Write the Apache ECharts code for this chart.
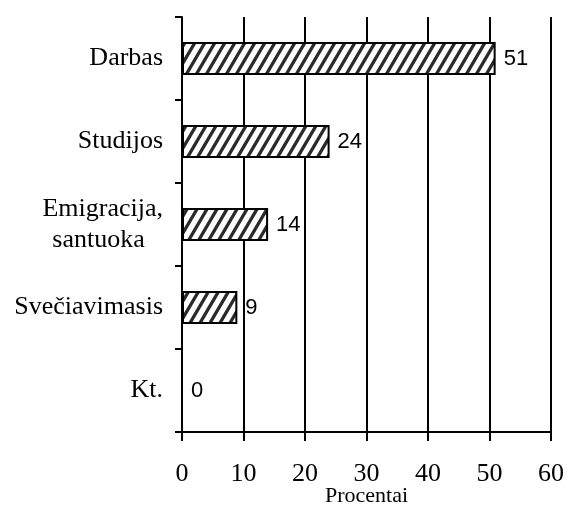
<!DOCTYPE html>
<html><head><meta charset="utf-8">
<script src="https://cdn.jsdelivr.net/npm/echarts@6/dist/echarts.min.js"></script>
<style>html,body{margin:0;padding:0;background:#fff}#c{width:568px;height:506px}</style>
</head><body><div id="c"></div>
<script>
const categories = ['Darbas', 'Studijos', 'Emigracija,\nsantuoka\u00a0\u00a0\u2009', 'Svečiavimasis', 'Kt.'];
const values = [51, 24, 14, 9, 0];
const xTicks = [0, 10, 20, 30, 40, 50, 60];

function hatch() {
  const w = 10, h = 17;
  const cv = document.createElement('canvas');
  cv.width = w; cv.height = h;
  const g = cv.getContext('2d');
  g.fillStyle = '#fff'; g.fillRect(0, 0, w, h);
  g.strokeStyle = '#2a2a2a'; g.lineWidth = 3.3;
  g.beginPath();
  for (let k = -1; k <= 1; k++) {
    g.moveTo(k * w - w, 2 * h); g.lineTo(k * w + 2 * w, -h);
  }
  g.stroke();
  return cv;
}

const chart = echarts.init(document.getElementById('c'), null, {renderer: 'canvas'});
chart.setOption({
  animation: false,
  grid: {left: 182, right: 17, top: 17, bottom: 74, containLabel: false, outerBoundsMode: 'none'},
  xAxis: {
    type: 'value', min: xTicks[0], max: xTicks[xTicks.length - 1], interval: 10,
    name: 'Procentai', nameLocation: 'middle', nameGap: 53, nameMoveOverlap: false,
    nameTextStyle: {fontFamily: 'Liberation Serif', fontSize: 22, color: '#000'},
    axisLine: {show: true, lineStyle: {color: '#000', width: 2}},
    axisTick: {show: true, length: 9, lineStyle: {color: '#000', width: 2}},
    axisLabel: {fontFamily: 'Liberation Serif', fontSize: 26, color: '#000', margin: 29},
    splitLine: {show: true, lineStyle: {color: '#000', width: 2}}
  },
  yAxis: {
    type: 'category', data: categories, inverse: true,
    axisLine: {show: true, lineStyle: {color: '#000', width: 2}},
    axisTick: {show: true, length: 7, lineStyle: {color: '#000', width: 2}},
    axisLabel: {fontFamily: 'Liberation Serif', fontSize: 26, color: '#000', margin: 19, lineHeight: 31}
  },
  series: [{
    type: 'bar', data: values, barWidth: 33,
    itemStyle: {color: {image: hatch(), repeat: 'repeat'}, borderColor: '#000', borderWidth: 2},
    label: {show: true, position: 'right', distance: 8, fontFamily: 'Liberation Sans', fontSize: 22, color: '#000'}
  }]
});
</script></body></html>
